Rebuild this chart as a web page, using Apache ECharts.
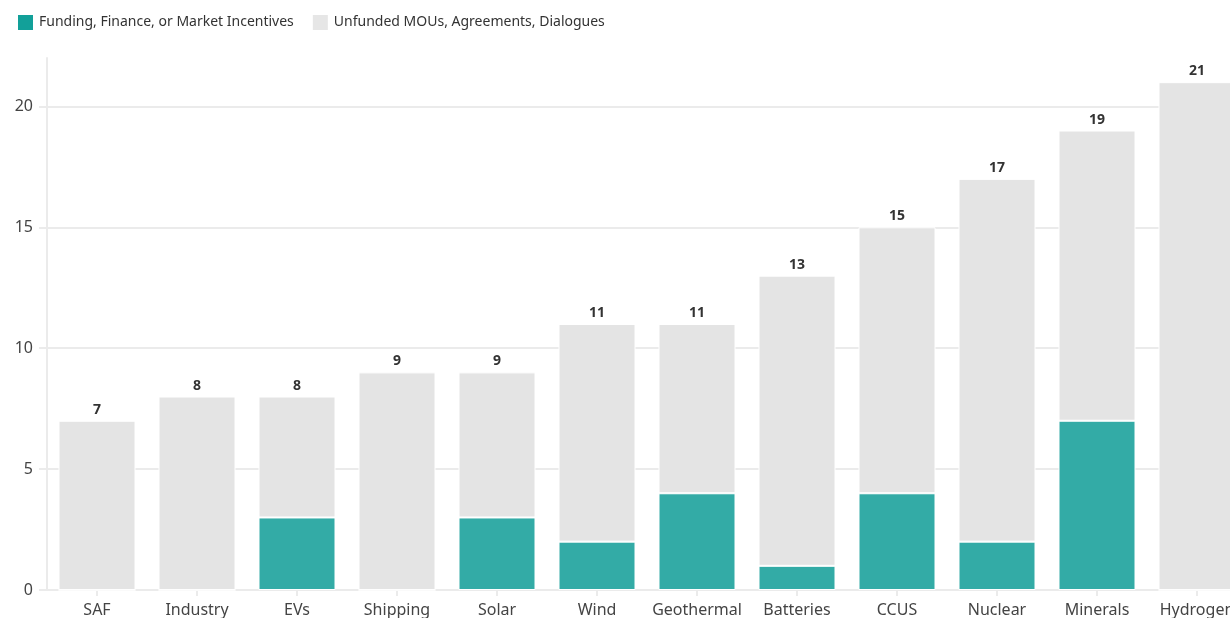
<!DOCTYPE html>
<html><head><meta charset="utf-8">
<script src="https://cdn.jsdelivr.net/npm/echarts@6/dist/echarts.min.js"></script>
<style>html,body{margin:0;padding:0;background:#fff;overflow:hidden;width:1230px;height:618px}#c{width:1247px;height:618px}</style>
</head><body><div id="c"></div>
<script>
const categories = ['SAF','Industry','EVs','Shipping','Solar','Wind','Geothermal','Batteries','CCUS','Nuclear','Minerals','Hydrogen'];
const funded = [0,0,3,0,3,2,4,1,4,2,7,0];
const totals = [7,8,8,9,9,11,11,13,15,17,19,21];
const unfunded = totals.map((t,i)=>t-funded[i]);
const seriesNames = ['Funding, Finance, or Market Incentives','Unfunded MOUs, Agreements, Dialogues'];
const yTicks = [0,5,10,15,20];

const font = '"Noto Sans", sans-serif';
const chart = echarts.init(document.getElementById('c'), null, {renderer:'canvas'});
chart.setOption({
  animation:false,
  textStyle:{fontFamily:font},
  legend:{
    left:16, top:13, padding:0, itemWidth:17, itemHeight:17, itemGap:17, icon:'rect',
    textStyle:{fontSize:14, color:'#333', fontFamily:font},
    data:[{name:seriesNames[0], itemStyle:{color:'#12a099'}},{name:seriesNames[1], itemStyle:{color:'#e6e6e6'}}]
  },
  grid:{left:47, right:0, top:58, bottom:28, containLabel:false},
  xAxis:{
    type:'category', data:categories,
    axisLine:{show:true, lineStyle:{color:'#ebebeb', width:2}},
    axisTick:{show:true, alignWithLabel:true, length:6, lineStyle:{color:'#ebebeb', width:2}},
    axisLabel:{fontSize:16, color:'#444', margin:12, fontFamily:font, interval:0}
  },
  yAxis:{
    type:'value', min:0, max:22, interval:5,
    axisLine:{show:true, lineStyle:{color:'#ebebeb', width:2}},
    axisTick:{show:true, length:8, lineStyle:{color:'#ebebeb', width:2}},
    splitLine:{show:true, showMaxLine:false, lineStyle:{color:'#ebebeb', width:2}},
    axisLabel:{fontSize:16, color:'#444', margin:14, fontFamily:font, showMaxLabel:false,
      formatter:v=>yTicks.includes(v)?String(v):''}
  },
  series:[
    {name:seriesNames[0], type:'bar', stack:'a', data:funded, barWidth:77,
     itemStyle:{color:'#33aba6', borderColor:'#fff', borderWidth:1}},
    {name:seriesNames[1], type:'bar', stack:'a', data:unfunded, barWidth:77,
     itemStyle:{color:'#e4e4e4', borderColor:'#fff', borderWidth:1},
     label:{show:true, position:'top', distance:4, fontWeight:'bold', fontSize:14, color:'#333', fontFamily:font,
       formatter:p=>String(totals[p.dataIndex])}}
  ]
});
</script></body></html>
